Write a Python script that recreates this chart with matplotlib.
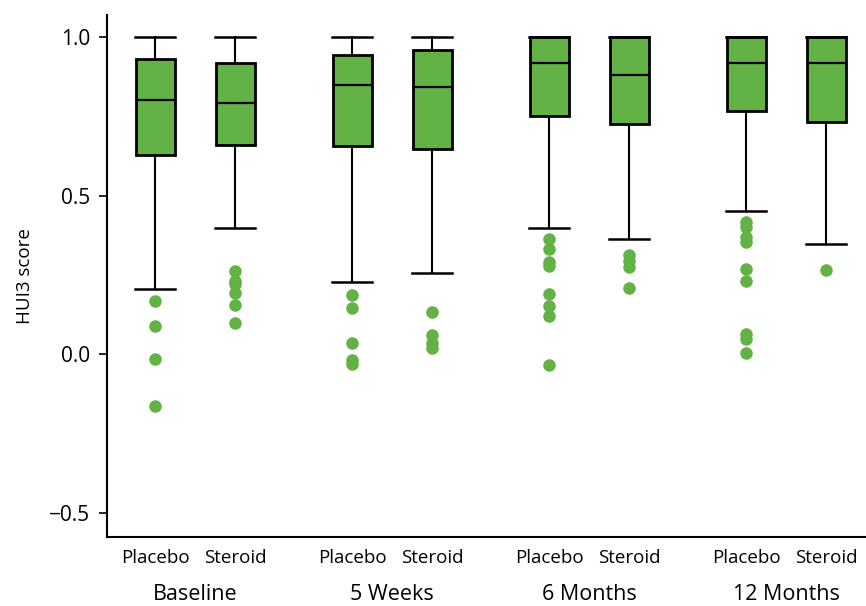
import matplotlib.pyplot as plt
import matplotlib.transforms as mtransforms

plt.rcParams['font.family'] = ['Open Sans', 'DejaVu Sans']

# Data
timepoints = ['Baseline', '5 Weeks', '6 Months', '12 Months']
arms = ['Placebo', 'Steroid']

whislo = [0.205, 0.399, 0.229, 0.257, 0.399, 0.365, 0.453, 0.348]
q1 = [0.630, 0.659, 0.656, 0.647, 0.753, 0.728, 0.767, 0.733]
med = [0.804, 0.793, 0.849, 0.845, 0.920, 0.880, 0.920, 0.920]
q3 = [0.931, 0.919, 0.946, 0.960, 1.0, 1.0, 1.0, 1.0]
whishi = [1.0, 1.0, 1.0, 1.0, 1.0, 1.0, 1.0, 1.0]
fliers = [
    [0.169, 0.089, -0.015, -0.162],
    [0.262, 0.232, 0.222, 0.195, 0.155, 0.099],
    [0.186, 0.147, 0.035, -0.018, -0.030],
    [0.134, 0.060, 0.037, 0.021],
    [0.365, 0.331, 0.292, 0.278, 0.190, 0.153, 0.122, -0.032],
    [0.312, 0.295, 0.277, 0.210],
    [0.417, 0.401, 0.369, 0.355, 0.269, 0.232, 0.063, 0.047, 0.005],
    [0.267],
]

green = '#63b246'

stats = []
for i in range(len(med)):
    stats.append(dict(whislo=whislo[i], q1=q1[i], med=med[i], q3=q3[i],
                      whishi=whishi[i], fliers=fliers[i]))

positions = []
for g in range(len(timepoints)):
    positions += [g - 0.203, g + 0.203]

fig = plt.figure(figsize=(8.66, 6.06), dpi=100)
ax = fig.add_axes([0.1236, 0.1139, 0.8764, 0.861])

ax.bxp(stats, positions=positions, widths=0.198, patch_artist=True,
       boxprops=dict(facecolor=green, edgecolor='black', linewidth=2.0),
       medianprops=dict(color='black', linewidth=1.6),
       whiskerprops=dict(color='black', linewidth=1.5),
       capprops=dict(color='black', linewidth=1.8),
       capwidths=0.2,
       flierprops=dict(marker='o', markerfacecolor=green, markeredgecolor=green,
                       markersize=8))

ax.set_xlim(-0.447, 3.406)
ax.set_ylim(-0.576, 1.07)
ax.set_yticks([-0.5, 0.0, 0.5, 1.0])
ax.set_yticklabels(['\u22120.5', '0.0', '0.5', '1.0'], fontsize=15)
ax.tick_params(axis='y', length=6, width=1.2, pad=6)
ax.set_ylabel('HUI3 score', fontsize=13.5, labelpad=11)

ax.set_xticks(positions)
ax.set_xticklabels(arms * len(timepoints), fontsize=13.5)
ax.tick_params(axis='x', length=0, pad=9)

trans = mtransforms.blended_transform_factory(ax.transData, ax.transAxes)
for g, name in enumerate(timepoints):
    ax.text(g, -0.111, name, transform=trans, ha='center', va='center', fontsize=15.5)

for s in ['top', 'right']:
    ax.spines[s].set_visible(False)
for s in ['left', 'bottom']:
    ax.spines[s].set_linewidth(1.5)

fig.savefig('out.png', dpi=100)
